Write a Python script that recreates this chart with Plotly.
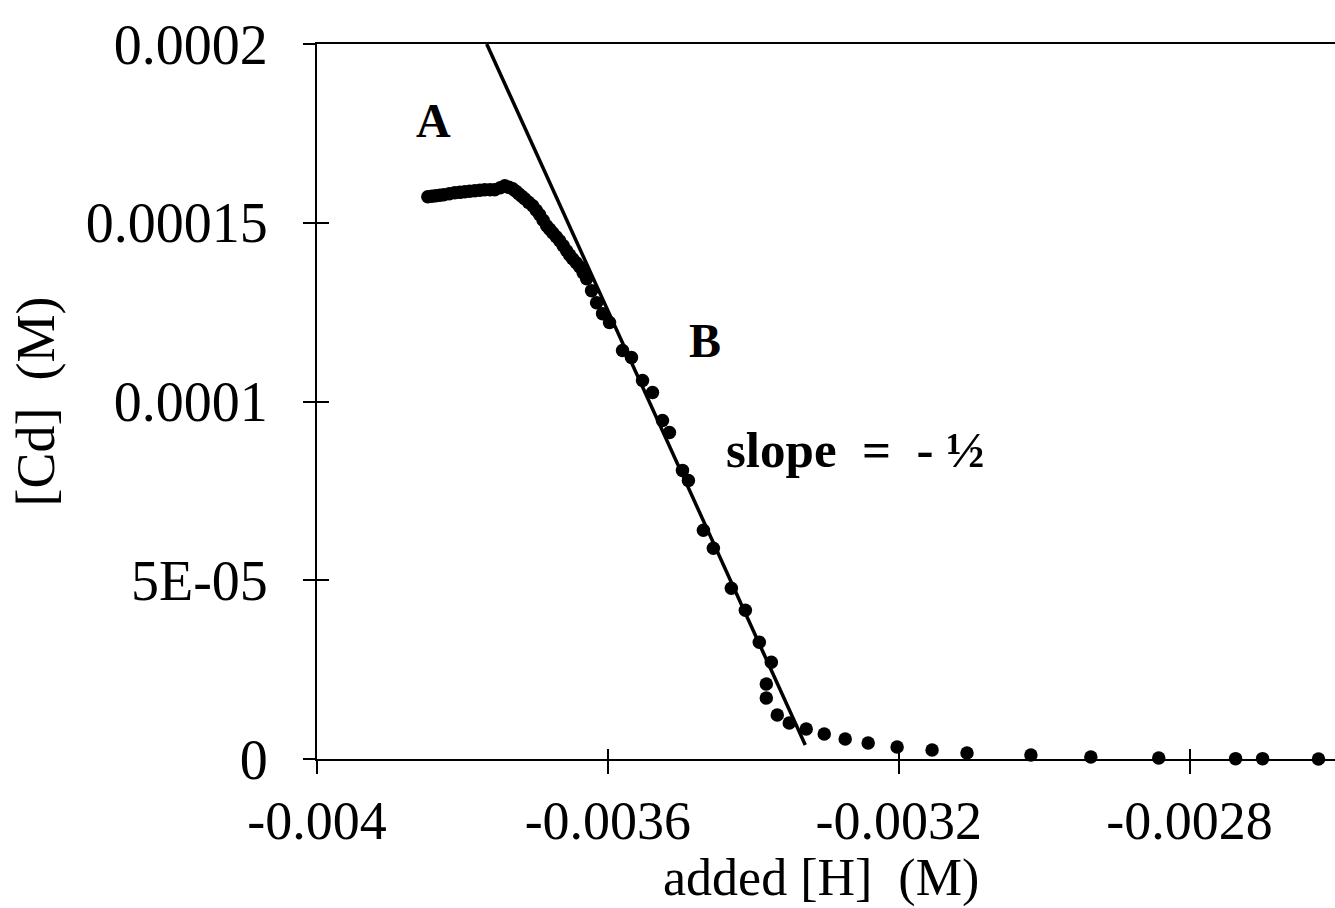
import plotly.graph_objects as go

# measured data: added [H] (M) vs [Cd] (M)
added_h = [
    -0.0038476, -0.0038420, -0.0038366, -0.0038310, -0.0038256, -0.0038180,
    -0.0038105, -0.0038035, -0.0037968, -0.0037900, -0.0037830, -0.0037760,
    -0.0037693, -0.0037620, -0.0037556, -0.0037480, -0.0037418, -0.0037360,
    -0.0037309, -0.0037265, -0.0037226, -0.0037185, -0.0037144, -0.0037090,
    -0.0037034, -0.0036985, -0.0036938, -0.0036890, -0.0036842, -0.0036800,
    -0.0036759, -0.0036710, -0.0036663, -0.0036615, -0.0036567, -0.0036525,
    -0.0036485, -0.0036435, -0.0036389, -0.0036340, -0.0036292, -0.0036224,
    -0.0036155, -0.0036073, -0.0035977, -0.0035798, -0.0035675, -0.0035523,
    -0.0035386, -0.0035249, -0.0035153, -0.0034974, -0.0034892, -0.0034686,
    -0.0034549, -0.0034302, -0.0034109, -0.0033917, -0.0033752, -0.0033821,
    -0.0033821, -0.0033670, -0.0033505, -0.0033272, -0.0033024, -0.0032736,
    -0.0032420, -0.0032022, -0.0031541, -0.0031061, -0.0030182, -0.0029358,
    -0.0028424, -0.0027367, -0.0026996, -0.0026227,
]
cd_conc = [
    1.5726e-4, 1.5740e-4, 1.5754e-4, 1.5768e-4, 1.5782e-4, 1.5810e-4,
    1.5838e-4, 1.5850e-4, 1.5866e-4, 1.5880e-4, 1.5894e-4, 1.5908e-4,
    1.5922e-4, 1.5922e-4, 1.5922e-4, 1.5980e-4, 1.6033e-4, 1.5990e-4,
    1.5950e-4, 1.5880e-4, 1.5810e-4, 1.5740e-4, 1.5670e-4, 1.5570e-4,
    1.5475e-4, 1.5350e-4, 1.5223e-4, 1.5070e-4, 1.4916e-4, 1.4820e-4,
    1.4721e-4, 1.4610e-4, 1.4497e-4, 1.4360e-4, 1.4218e-4, 1.4100e-4,
    1.3994e-4, 1.3880e-4, 1.3771e-4, 1.3600e-4, 1.3436e-4, 1.3101e-4,
    1.2765e-4, 1.2458e-4, 1.2207e-4, 1.1425e-4, 1.1229e-4, 1.0587e-4,
    1.0251e-4, 9.469e-5, 9.134e-5, 8.073e-5, 7.793e-5, 6.397e-5,
    5.894e-5, 4.777e-5, 4.162e-5, 3.268e-5, 2.709e-5, 2.095e-5,
    1.704e-5, 1.229e-5, 1.006e-5, 8.38e-6, 6.98e-6, 5.59e-6,
    4.47e-6, 3.35e-6, 2.51e-6, 1.68e-6, 1.12e-6, 5.6e-7,
    2.8e-7, 1.0e-7, 1.0e-7, 0.0,
]

# fitted straight line (slope ~ -1/2)
fit_x = [-0.0037666, -0.0033285]
fit_y = [0.0002, 0.0000039]

x_tick_vals = [-0.004, -0.0036, -0.0032, -0.0028]
x_tick_text = ["-0.004", "-0.0036", "-0.0032", "-0.0028"]
y_tick_vals = [0, 5e-5, 1e-4, 1.5e-4, 2e-4]
y_tick_text = ["0", "5E-05", "0.0001", "0.00015", "0.0002"]

x_range = [-0.004, -0.0026]
y_range = [0, 0.0002]

SERIF = "Liberation Serif, Times New Roman, serif"

fig = go.Figure()
fig.add_trace(go.Scatter(
    x=fit_x, y=fit_y, mode="lines",
    line=dict(color="black", width=3.5), showlegend=False, hoverinfo="skip",
))
fig.add_trace(go.Scatter(
    x=added_h, y=cd_conc, mode="markers",
    marker=dict(color="black", size=13.5, line=dict(width=0)),
    cliponaxis=False, showlegend=False,
))
# invisible trace to host the overlay axes (inside halves of the crossing ticks)
fig.add_trace(go.Scatter(
    x=[x_range[0]], y=[y_range[0]], xaxis="x2", yaxis="y2", mode="markers",
    marker=dict(opacity=0), showlegend=False, hoverinfo="skip",
))

fig.update_layout(
    width=1335, height=908,
    margin=dict(l=317, r=0, t=44, b=149),
    paper_bgcolor="white", plot_bgcolor="white",
    font=dict(family=SERIF, color="black"),
    xaxis=dict(
        range=x_range, tickvals=x_tick_vals, ticktext=x_tick_text,
        showgrid=False, zeroline=False,
        showline=True, linecolor="black", linewidth=2, mirror=True,
        ticks="outside", ticklen=13, tickwidth=2, tickcolor="black",
        tickfont=dict(family=SERIF, size=54, color="black"),
        ticklabelstandoff=0,
    ),
    yaxis=dict(
        range=y_range, tickvals=y_tick_vals, ticktext=y_tick_text,
        showgrid=False, zeroline=False,
        showline=True, linecolor="black", linewidth=2, mirror=False,
        ticks="outside", ticklen=12, tickwidth=2, tickcolor="black",
        tickfont=dict(family=SERIF, size=56, color="black"),
        ticklabelstandoff=24,
        title=dict(text="[Cd]  (M)", font=dict(family=SERIF, size=54, color="black"), standoff=14),
    ),
    xaxis2=dict(
        range=x_range, tickvals=x_tick_vals, overlaying="x", anchor="y2", side="bottom",
        showgrid=False, zeroline=False, showline=False, showticklabels=False,
        ticks="inside", ticklen=10, tickwidth=2, tickcolor="black",
    ),
    yaxis2=dict(
        range=y_range, tickvals=y_tick_vals, overlaying="y", anchor="x2", side="left",
        showgrid=False, zeroline=False, showline=False, showticklabels=False,
        ticks="inside", ticklen=12, tickwidth=2, tickcolor="black",
    ),
    annotations=[
        dict(x=0.495, y=-0.123, xref="paper", yref="paper", yanchor="top",
             text="added [H]  (M)", showarrow=False,
             font=dict(family=SERIF, size=52, color="black")),
        dict(x=-0.00384, y=1.785e-4, text="<b>A</b>", showarrow=False,
             font=dict(family=SERIF, size=48, color="black")),
        dict(x=-0.003467, y=1.170e-4, text="<b>B</b>", showarrow=False,
             font=dict(family=SERIF, size=48, color="black")),
        dict(x=-0.00326, y=8.63e-5, text="<b>slope  =  - ½</b>", showarrow=False,
             font=dict(family=SERIF, size=51, color="black")),
    ],
)

fig.write_html("out.html")
